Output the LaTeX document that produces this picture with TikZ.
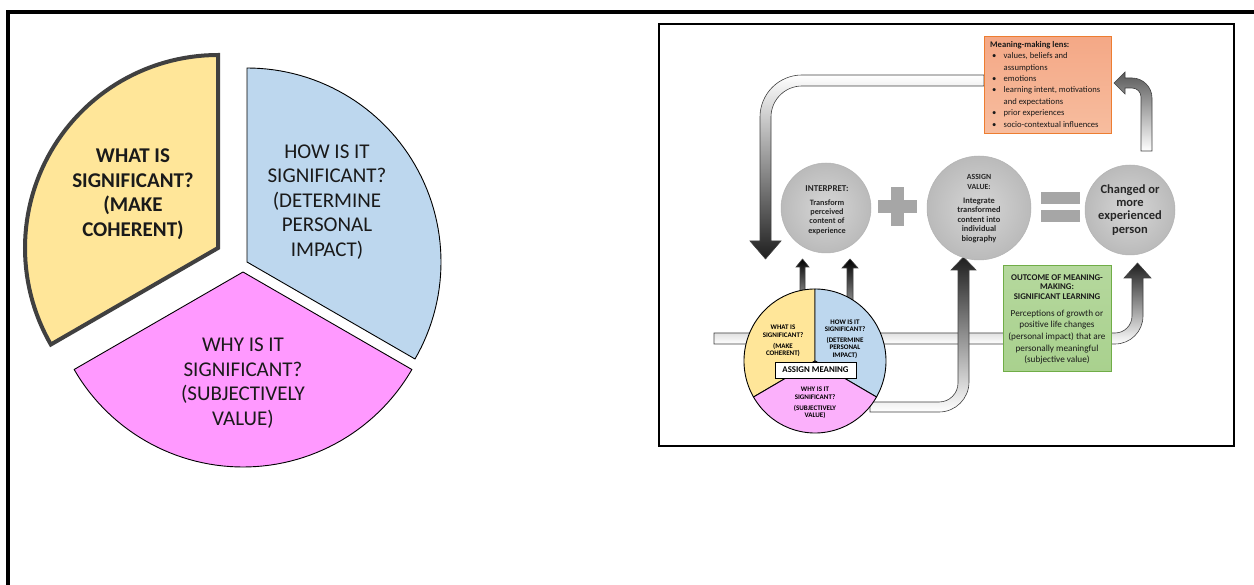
\documentclass[tikz,border=0pt]{standalone}
\usepackage{fontspec}
\setmainfont{Carlito}
\begin{document}
\begin{tikzpicture}[x=1pt,y=-1pt]
\definecolor{pieyellow}{HTML}{FFE699}
\definecolor{pieblue}{HTML}{BDD7EE}
\definecolor{piepink}{HTML}{FF99FF}
\definecolor{smallpink}{HTML}{FBB0FB}
\definecolor{lensfill}{HTML}{F7BD9F}
\definecolor{lenstop}{HTML}{F4A886}
\definecolor{lensedge}{HTML}{ED7D31}
\definecolor{outfill}{HTML}{A9D18E}
\definecolor{outtop}{HTML}{B5D89D}
\definecolor{outedge}{HTML}{70AD47}
\definecolor{inktext}{HTML}{1A1A1A}
\definecolor{signgray}{HTML}{A6A6A6}
\tikzset{
  sector/.style={draw=black, line width=0.9pt, line join=round},
  bigtext/.style={align=center, text=inktext, font=\fontsize{21}{24.5}\selectfont, inner sep=0pt},
  blockarrow/.style={draw=black!75, line width=0.6pt, line join=miter},
  gcircle/.style={circle, draw=black!30, line width=0.5pt, inner color=black!16, outer color=black!27, inner sep=0pt},
  circtext/.style={align=center, text=black!85, inner sep=0pt},
  pietext/.style={align=center, text=black, inner sep=0pt, font=\bfseries\fontsize{7}{7.6}\selectfont},
}
\useasboundingbox (0,0) rectangle (1254,585);

% outer frame (top and left edges)
\draw[line width=4pt] (8,585) -- (8,12) -- (1254,12);

% ---------- exploded pie ----------
\path[fill=pieblue, sector] (247,262) -- plot[domain=-30:90, samples=61] ({247+194*cos(\x)},{262-194*sin(\x)}) -- cycle;
\path[fill=piepink, sector] (243,272) -- plot[domain=210:330, samples=61] ({243+195*cos(\x)},{272-195*sin(\x)}) -- cycle;
\path[fill=pieyellow, draw=black!75, line width=4pt, line join=miter] (218,248) -- plot[domain=90:210, samples=61] ({218+193*cos(\x)},{248-193*sin(\x)}) -- cycle;

\node[bigtext, font=\bfseries\fontsize{21}{24.5}\selectfont] (what) at (133,194) {WHAT IS\\SIGNIFICANT?\\(MAKE\\COHERENT)};
\node[bigtext] (how) at (327,202) {HOW IS IT\\SIGNIFICANT?\\(DETERMINE\\PERSONAL\\IMPACT)};
\node[bigtext] (why) at (243,383) {WHY IS IT\\SIGNIFICANT?\\(SUBJECTIVELY\\VALUE)};

% ---------- meaning-making cycle ----------
\draw[line width=1.8pt] (659,24) rectangle (1234,446);

% loop back from the lens to interpretation
\path[blockarrow, top color=white, middle color=black!25, bottom color=black!88]
  (984,75) -- (802,75) .. controls (778.8,75) and (760,93.8) .. (760,117)
  -- (760,241) -- (750,241) -- (765.5,259) -- (781,241) -- (771,241)
  -- (771,117) .. controls (771,99.9) and (784.9,86) .. (802,86) -- (984,86) -- cycle;

% from the changed person up to the lens
\path[blockarrow, top color=black!65, bottom color=white]
  (1141,151) -- (1141,97) .. controls (1141,92) and (1137,88) .. (1132,88)
  -- (1125,88) -- (1125,94) -- (1114,83) -- (1125,72) -- (1125,78) -- (1132,78)
  .. controls (1143,78) and (1152,87) .. (1152,98) -- (1152,151) -- cycle;

% band running through the meaning step up to the changed person
\path[blockarrow, top color=black!88, bottom color=white]
  (714,333) -- (1115,333) .. controls (1124.4,333) and (1132,325.4) .. (1132,316)
  -- (1132,278) -- (1124,278) -- (1137.5,263) -- (1151,278) -- (1143,278)
  -- (1143,316) .. controls (1143,331.5) and (1130.5,344) .. (1115,344) -- (714,344) -- cycle;

% from the meaning step up to value assignment
\path[blockarrow, top color=black!88, bottom color=white]
  (870,402) -- (939,402) .. controls (949.5,402) and (958,393.5) .. (958,383)
  -- (958,270) -- (951,270) -- (963.5,257) -- (976,270) -- (969,270)
  -- (969,382) .. controls (969,398.6) and (955.6,412) .. (939,412) -- (870,412) -- cycle;

% two small arrows into interpretation
\path[blockarrow, top color=black, bottom color=black!45]
  (800,296) -- (800,267) -- (796,267) -- (802.5,259) -- (809,267) -- (805,267) -- (805,296) -- cycle;
\path[blockarrow, top color=black, bottom color=black!45]
  (847,302) -- (847,268) -- (842,268) -- (850,259) -- (858,268) -- (853,268) -- (853,302) -- cycle;

% small pie: assign meaning
\path[fill=pieyellow, sector] (815,361) -- plot[domain=90:210, samples=61] ({815+71*cos(\x)},{361-72*sin(\x)}) -- cycle;
\path[fill=pieblue, sector] (815,361) -- plot[domain=-30:90, samples=61] ({815+71*cos(\x)},{361-72*sin(\x)}) -- cycle;
\path[fill=smallpink, sector] (815,361) -- plot[domain=210:330, samples=61] ({815+71*cos(\x)},{361-72*sin(\x)}) -- cycle;

\node[pietext] (pwhat) at (783,341) {WHAT IS\\SIGNIFICANT?\\[3pt](MAKE\\COHERENT)};
\node[pietext] (phow) at (845,339) {HOW IS IT\\SIGNIFICANT?\\[3pt](DETERMINE\\PERSONAL\\IMPACT)};
\node[pietext] (pwhy) at (815,403) {WHY IS IT\\SIGNIFICANT?\\[3pt](SUBJECTIVELY\\VALUE)};
\node[draw=black, line width=0.8pt, fill=white, minimum width=81pt, minimum height=16pt, inner sep=0pt,
      font=\bfseries\fontsize{8.8}{9}\selectfont] (meaning) at (815.5,370) {ASSIGN MEANING};

% three stages
\node[gcircle, minimum size=90pt] (interp) at (826,208) {};
\node[gcircle, minimum size=104pt] (assign) at (979,208) {};
\node[gcircle, minimum size=90pt] (changed) at (1130,210) {};

\fill[signgray] (878,200.5) rectangle (917,213.5);
\fill[signgray] (891,187) rectangle (904,226);
\fill[signgray] (1041,192) rectangle (1080,204);
\fill[signgray] (1041,210) rectangle (1080,222);

\node[circtext, font=\bfseries\fontsize{9}{9}\selectfont] (interphead) at (827,189) {INTERPRET:};
\node[circtext, font=\bfseries\fontsize{8.2}{9.2}\selectfont] (interpbody) at (827,217) {Transform\\perceived\\content of\\experience};
\node[circtext, font=\bfseries\fontsize{7.8}{10.6}\selectfont] (assignhead) at (979,182) {ASSIGN\\VALUE:};
\node[circtext, font=\bfseries\fontsize{8.4}{9.5}\selectfont] (assignbody) at (979,220) {Integrate\\transformed\\content into\\individual\\biography};
\node[circtext, font=\bfseries\fontsize{12.5}{13.1}\selectfont] (changedtext) at (1130,210) {Changed or\\more\\experienced\\person};

% meaning-making lens
\node[draw=lensedge, line width=1pt, top color=lenstop, bottom color=lensfill,
      minimum width=127pt, minimum height=97pt, inner sep=0pt] (lens) at (1047.5,85.5) {};
\node[anchor=north west, align=left, inner sep=0pt, text=inktext,
      font=\fontsize{8.6}{11.4}\selectfont] (lenstext) at (990,41)
  {\textbf{Meaning-making lens:}\\
   \hspace*{2pt}\makebox[11.5pt][l]{\textbullet}values, beliefs and\\
   \hspace*{13.5pt}assumptions\\
   \hspace*{2pt}\makebox[11.5pt][l]{\textbullet}emotions\\
   \hspace*{2pt}\makebox[11.5pt][l]{\textbullet}learning intent, motivations\\
   \hspace*{13.5pt}and expectations\\
   \hspace*{2pt}\makebox[11.5pt][l]{\textbullet}prior experiences\\
   \hspace*{2pt}\makebox[11.5pt][l]{\textbullet}socio-contextual influences};

% outcome of meaning-making
\node[draw=outedge, line width=1pt, top color=outtop, bottom color=outfill,
      minimum width=108pt, minimum height=106pt, inner sep=0pt] (outcome) at (1057,319) {};
\node[align=center, inner sep=0pt, text=inktext, font=\bfseries\fontsize{8.8}{9.7}\selectfont] (outhead) at (1057,287)
  {OUTCOME OF MEANING-\\MAKING:\\SIGNIFICANT LEARNING};
\node[align=center, inner sep=0pt, text=inktext, font=\fontsize{9.2}{11.6}\selectfont] (outbody) at (1057,337)
  {Perceptions of growth or\\positive life changes\\(personal impact) that are\\personally meaningful\\(subjective value)};
\end{tikzpicture}
\end{document}
